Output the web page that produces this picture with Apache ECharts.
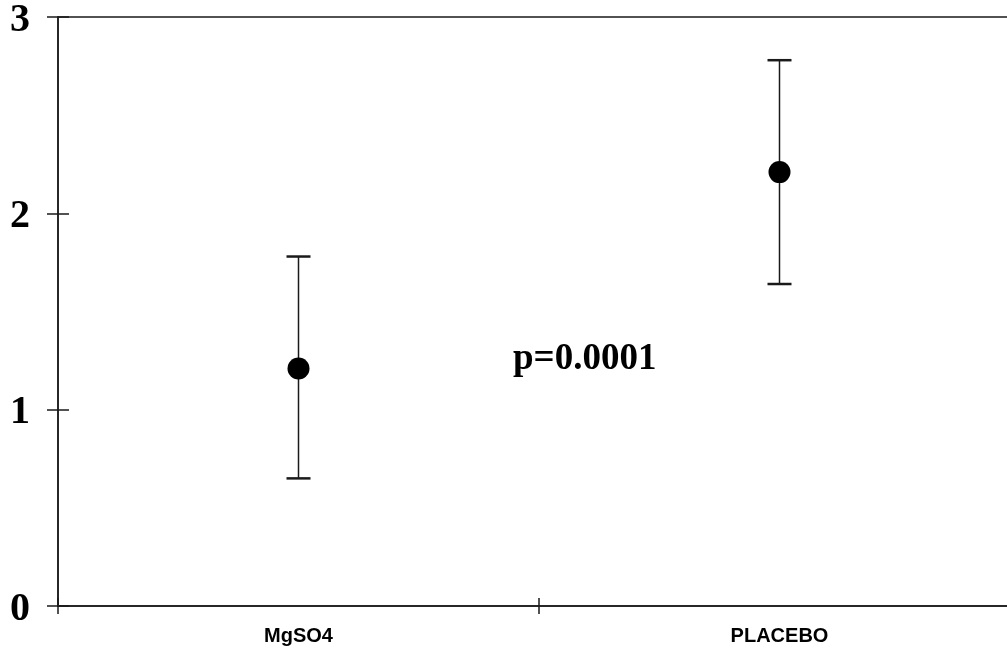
<!DOCTYPE html>
<html>
<head>
<meta charset="utf-8">
<script src="https://cdn.jsdelivr.net/npm/echarts@6/dist/echarts.min.js"></script>
<style>
html,body{margin:0;padding:0;background:#fff;}
#chart{width:1007px;height:651px;}
</style>
</head>
<body>
<div id="chart"></div>
<script>
var categories = ['MgSO4', 'PLACEBO'];
var means = [1.21, 2.21];
var lowerBars = [0.65, 1.64];
var upperBars = [1.78, 2.78];
var yTicks = [0, 1, 2, 3];
var annotation = 'p=0.0001';

var chart = echarts.init(document.getElementById('chart'));
var lineColor = '#1a1a1a';
var errData = categories.map(function (c, i) { return [i, lowerBars[i], upperBars[i]]; });
var meanData = categories.map(function (c, i) { return [i, means[i]]; });

var gridW = 962, gridH = 589;

var option = {
  animation: false,
  backgroundColor: '#ffffff',
  grid: {
    left: 58, top: 17, width: gridW, height: gridH,
    outerBoundsMode: 'none',
    containLabel: false,
    show: true, borderColor: lineColor, borderWidth: 1.5, backgroundColor: 'transparent'
  },
  xAxis: [{
    type: 'category',
    data: categories,
    position: 'bottom',
    boundaryGap: true,
    axisLine: { lineStyle: { color: lineColor, width: 1.5 } },
    axisTick: { show: true, length: 8, lineStyle: { color: lineColor, width: 1.5 } },
    axisLabel: {
      color: '#000', fontFamily: 'Liberation Sans', fontWeight: 'bold', fontSize: 20, margin: 20
    },
    splitLine: { show: false }
  }, {
    type: 'category',
    data: categories,
    position: 'top',
    offset: -gridH,
    boundaryGap: true,
    axisLine: { show: false },
    axisTick: { show: true, length: 8, lineStyle: { color: lineColor, width: 1.5 } },
    axisLabel: { show: false },
    splitLine: { show: false }
  }],
  yAxis: [{
    type: 'value',
    position: 'left',
    min: 0, max: 3, interval: 1,
    axisLine: { show: true, lineStyle: { color: lineColor, width: 1.5 } },
    axisTick: { show: true, length: 11, lineStyle: { color: lineColor, width: 1.5 } },
    axisLabel: {
      margin: 28,
      formatter: function (v) { return yTicks.indexOf(v) >= 0 ? '{v|' + v + '}' : ''; },
      rich: {
        v: { color: '#000', fontFamily: 'Liberation Serif', fontWeight: 'bold', fontSize: 40, padding: [7, 0, 0, 0] }
      }
    },
    splitLine: { show: false }
  }, {
    type: 'value',
    min: 0, max: 3, interval: 1,
    position: 'right',
    offset: -gridW,
    axisLine: { show: false },
    axisTick: { show: true, length: 11, lineStyle: { color: lineColor, width: 1.5 } },
    axisLabel: { show: false },
    splitLine: { show: false }
  }],
  series: [{
    type: 'custom',
    xAxisIndex: 0, yAxisIndex: 0,
    data: errData,
    renderItem: function (params, api) {
      var x = api.value(0);
      var lo = api.coord([x, api.value(1)]);
      var hi = api.coord([x, api.value(2)]);
      var hw = 12;
      var st = { stroke: lineColor, lineWidth: 1.5 };
      var capSt = { stroke: lineColor, lineWidth: 2.5 };
      return {
        type: 'group',
        children: [
          { type: 'line', shape: { x1: lo[0], y1: lo[1], x2: hi[0], y2: hi[1] }, style: st },
          { type: 'line', shape: { x1: hi[0] - hw, y1: hi[1], x2: hi[0] + hw, y2: hi[1] }, style: capSt },
          { type: 'line', shape: { x1: lo[0] - hw, y1: lo[1], x2: lo[0] + hw, y2: lo[1] }, style: capSt }
        ]
      };
    },
    z: 2
  }, {
    type: 'scatter',
    xAxisIndex: 0, yAxisIndex: 0,
    data: meanData,
    symbol: 'circle',
    symbolSize: 22,
    itemStyle: { color: '#000', opacity: 1 },
    z: 3
  }],
  graphic: [{
    type: 'text',
    left: 513,
    top: 341,
    style: {
      text: annotation,
      fill: '#000',
      font: 'bold 37px "Liberation Serif"'
    }
  }]
};
chart.setOption(option);
</script>
</body>
</html>
